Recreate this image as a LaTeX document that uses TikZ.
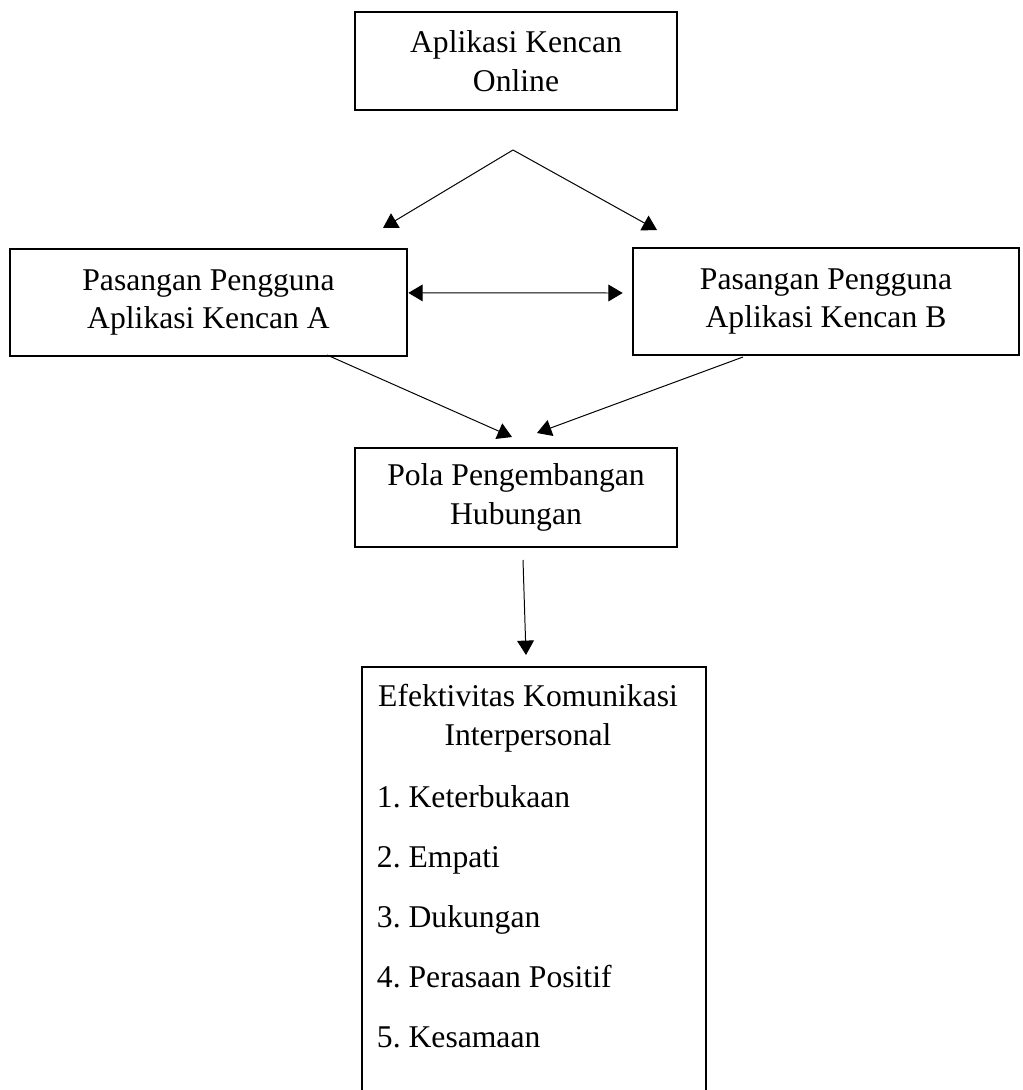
\documentclass[tikz,border=0pt]{standalone}
\usepackage{fontspec}
\setmainfont{Liberation Serif}
\usetikzlibrary{arrows.meta}
\frenchspacing
\tikzset{>={Triangle[length=0.36cm,width=0.42cm]}}
\tikzset{
	kotak/.style={draw, line width=1.8pt, align=center, inner sep=0pt},
	panah/.style={->, line width=0.7pt}
}

\begin{document}
\begin{tikzpicture}[x=0.025cm, y=-0.025cm, font=\fontsize{22.5}{27.5}\selectfont]
	\useasboundingbox (0,0) rectangle (1023,1090);
	\clip (0,0) rectangle (1023,1090);
	% kotak
	\node (app) [kotak, minimum width=8.05cm, minimum height=2.45cm] at (516,61) {Aplikasi Kencan\\Online};
	\node (pairA) [kotak, minimum width=9.925cm, minimum height=2.675cm] at (208.5,302.5) {Pasangan Pengguna\\Aplikasi Kencan A};
	\node (pairB) [kotak, minimum width=9.65cm, minimum height=2.675cm] at (826,301.5) {Pasangan Pengguna\\Aplikasi Kencan B};
	\node (pola) [kotak, minimum width=8.05cm, minimum height=2.475cm] at (516,497.5) {Pola Pengembangan\\Hubungan};
	\node (efek) [kotak, minimum width=8.6cm, minimum height=11.075cm] at (534,888.5) {};
	\node (judul) [align=center] at (528,718) {Efektivitas Komunikasi\\Interpersonal};
	\foreach \t [count=\i] in {1. Keterbukaan, 2. Empati, 3. Dukungan, 4. Perasaan Positif, 5. Kesamaan}
	\node (butir\i) [anchor=base west] at (372,747+60*\i) {\t};
	% panah
	\coordinate (pisah) at (513,150);
	\coordinate (keA) at (383,228);
	\coordinate (keB) at (657,230);
	\draw [panah] (pisah) -- (keA);
	\draw [panah] (pisah) -- (keB);
	\draw [panah, <->] ([yshift=0.24cm]pairA.east) -- ([xshift=-0.225cm, yshift=0.2125cm]pairB.west);
	\coordinate (dariA) at (327,355);
	\coordinate (dariB) at (743,357);
	\coordinate (masukA) at (512,437);
	\coordinate (masukB) at (537,433);
	\draw [panah] (dariA) -- (masukA);
	\draw [panah] (dariB) -- (masukB);
	\coordinate (dariPola) at (523,560);
	\coordinate (keEfek) at (526,655);
	\draw [panah] (dariPola) -- (keEfek);
\end{tikzpicture}
\end{document}
